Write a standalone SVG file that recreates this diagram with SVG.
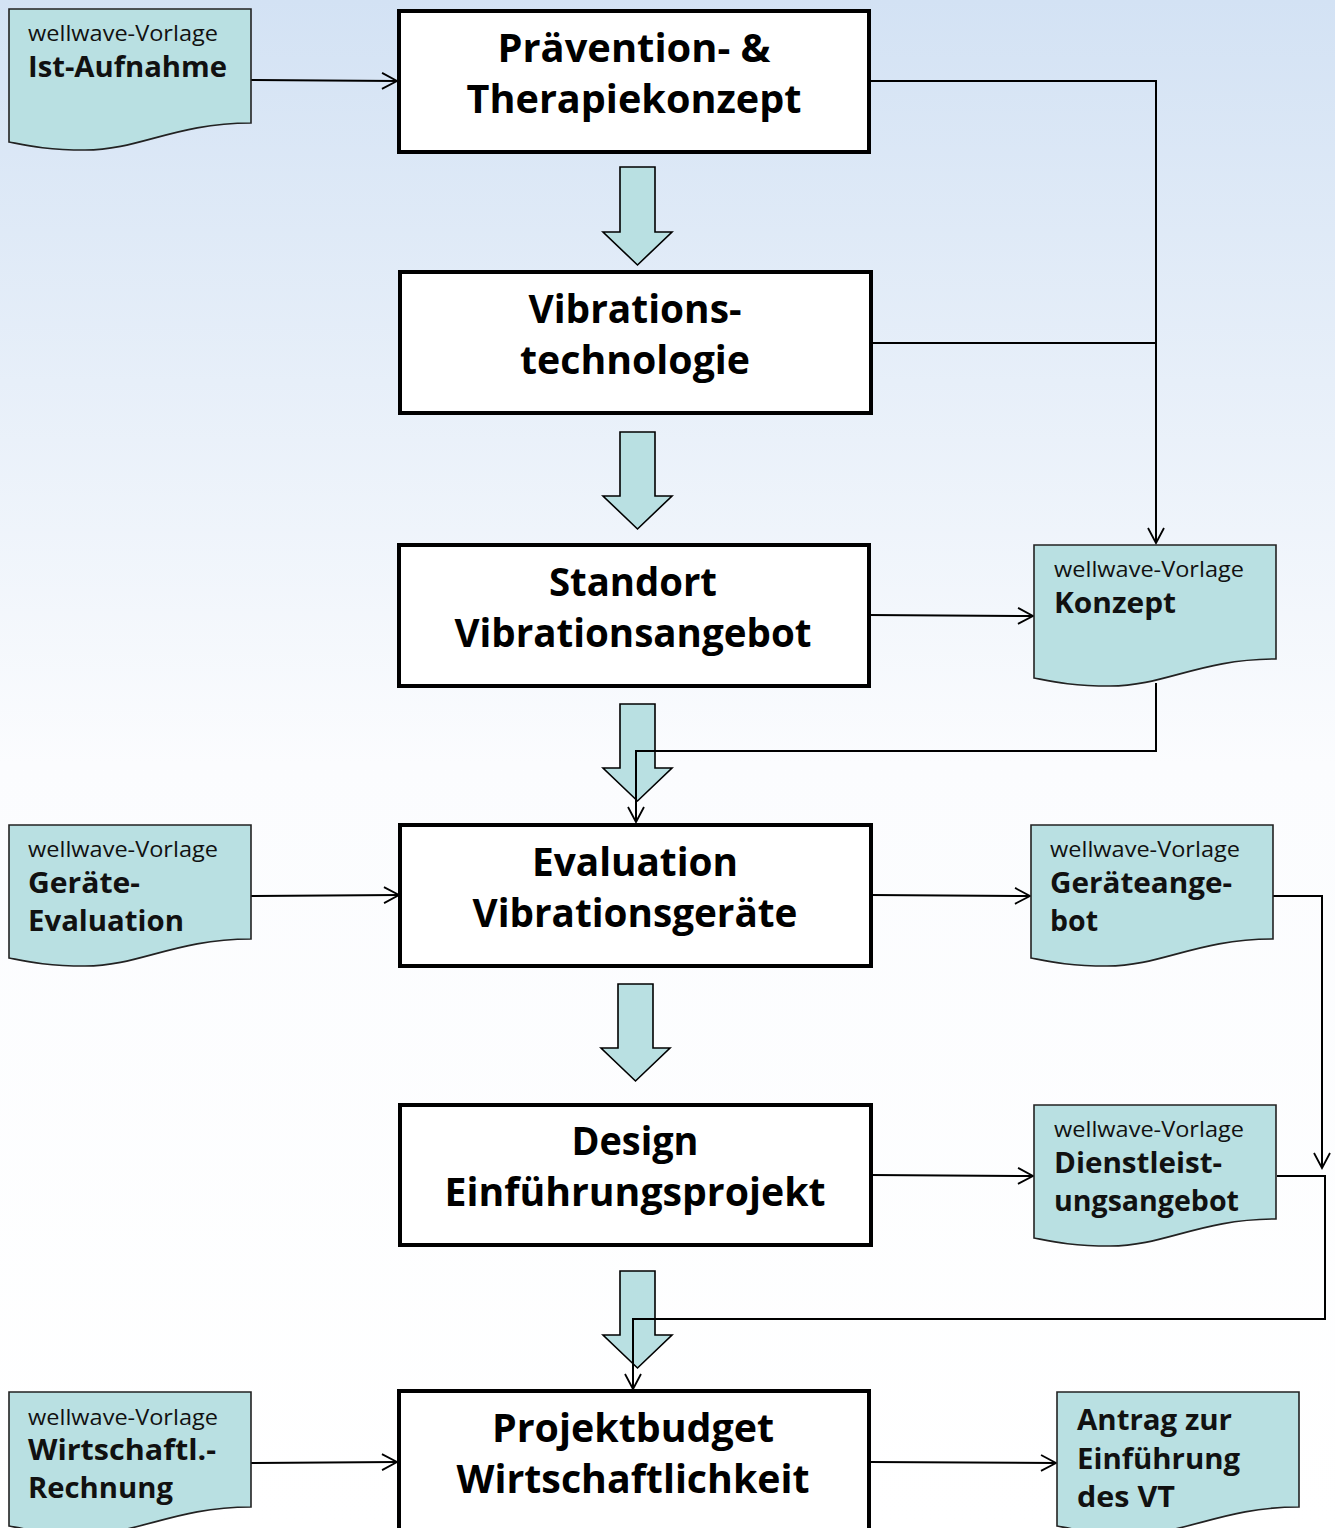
<svg xmlns="http://www.w3.org/2000/svg" width="1335" height="1528" viewBox="0 0 1335 1528">
<defs>
<linearGradient id="bg" x1="0" y1="0" x2="0" y2="1528" gradientUnits="userSpaceOnUse">
<stop offset="0" stop-color="#d3e2f4"/>
<stop offset="0.5" stop-color="#fbfcfe"/>
<stop offset="1" stop-color="#ffffff"/>
</linearGradient>
<marker id="arr" viewBox="0 0 18 18" refX="16" refY="9" markerWidth="18" markerHeight="18" markerUnits="userSpaceOnUse" orient="auto">
<path d="M1,1 L16,9 L1,17" fill="none" stroke="#000" stroke-width="1.8"/>
</marker>
<style>
.box{fill:#fff;stroke:#000;stroke-width:4}
.doc{fill:#b9e0e2;stroke:#222;stroke-width:1.6}
.blk{fill:#b9e0e2;stroke:#000;stroke-width:1.6}
.big{font-family:"Open Sans","DejaVu Sans",sans-serif;font-weight:bold;font-size:39px;fill:#000;text-anchor:middle}
.sm{font-family:"Open Sans","DejaVu Sans",sans-serif;font-size:21px;fill:#111}
.md{font-family:"Open Sans","DejaVu Sans",sans-serif;font-weight:bold;font-size:29px;fill:#111}
.con{fill:none;stroke:#000;stroke-width:2}
</style>
</defs>
<rect width="1335" height="1528" fill="url(#bg)"/>

<g id="connectors">
<path class="con" d="M251,80 L397,81" marker-end="url(#arr)"/>
<path class="con" d="M869,81 H1156 V543" marker-end="url(#arr)"/>
<path class="con" d="M871,343 H1156"/>
<path class="con" d="M869,615 L1033,616" marker-end="url(#arr)"/>
<path class="con" d="M251,896 L399,895" marker-end="url(#arr)"/>
<path class="con" d="M871,895 L1030,896" marker-end="url(#arr)"/>
<path class="con" d="M1273,896 H1322 V1168" marker-end="url(#arr)"/>
<path class="con" d="M871,1175 L1033,1176" marker-end="url(#arr)"/>
<path class="con" d="M251,1463 L397,1462" marker-end="url(#arr)"/>
<path class="con" d="M869,1462 L1056,1463" marker-end="url(#arr)"/>
</g>

<g id="blockarrows">
<path class="blk" d="M620,167 H655 V232 H672 L637.5,265 L603,232 H620 Z"/>
<path class="blk" d="M620,432 H655 V496 H672 L637.5,529 L603,496 H620 Z"/>
<path class="blk" d="M620,704 H655 V768 H672 L637.5,801 L603,768 H620 Z"/>
<path class="blk" d="M618,984 H653 V1048 H670 L635.5,1081 L601,1048 H618 Z"/>
<path class="blk" d="M620,1271 H655 V1335 H672 L637.5,1368 L603,1335 H620 Z"/>
</g>

<g id="connectors-over">
<path class="con" d="M1156,683 V751 H636 V822" marker-end="url(#arr)"/>
<path class="con" d="M1277,1176 H1325 V1319 H633 V1389" marker-end="url(#arr)"/>
</g>

<g id="n1"><rect class="box" x="399" y="11" width="470" height="141"/>
<text class="big" x="634" y="62" textLength="273" lengthAdjust="spacingAndGlyphs">Prävention- &amp;</text>
<text class="big" x="634" y="113" textLength="335" lengthAdjust="spacingAndGlyphs">Therapiekonzept</text></g>

<g id="n2"><rect class="box" x="400" y="272" width="471" height="141"/>
<text class="big" x="635" y="323" textLength="213" lengthAdjust="spacingAndGlyphs">Vibrations-</text>
<text class="big" x="635" y="374" textLength="230" lengthAdjust="spacingAndGlyphs">technologie</text></g>

<g id="n3"><rect class="box" x="399" y="545" width="470" height="141"/>
<text class="big" x="633" y="596" textLength="168" lengthAdjust="spacingAndGlyphs">Standort</text>
<text class="big" x="633" y="647" textLength="357" lengthAdjust="spacingAndGlyphs">Vibrationsangebot</text></g>

<g id="n4"><rect class="box" x="400" y="825" width="471" height="141"/>
<text class="big" x="635" y="876" textLength="206" lengthAdjust="spacingAndGlyphs">Evaluation</text>
<text class="big" x="635" y="927" textLength="325" lengthAdjust="spacingAndGlyphs">Vibrationsgeräte</text></g>

<g id="n5"><rect class="box" x="400" y="1105" width="471" height="140"/>
<text class="big" x="635" y="1155" textLength="127" lengthAdjust="spacingAndGlyphs">Design</text>
<text class="big" x="635" y="1206" textLength="381" lengthAdjust="spacingAndGlyphs">Einführungsprojekt</text></g>

<g id="n6"><rect class="box" x="399" y="1391" width="470" height="145"/>
<text class="big" x="633" y="1442" textLength="282" lengthAdjust="spacingAndGlyphs">Projektbudget</text>
<text class="big" x="633" y="1493" textLength="353" lengthAdjust="spacingAndGlyphs">Wirtschaftlichkeit</text></g>

<g id="d1"><path class="doc" d="M9,9 H251 V123 C175,123 140,150 85,150 C45,150 25,145 9,142 Z"/>
<text class="sm" x="28" y="41" textLength="190" lengthAdjust="spacingAndGlyphs">wellwave-Vorlage</text>
<text class="md" x="28" y="77" textLength="199" lengthAdjust="spacingAndGlyphs">Ist-Aufnahme</text></g>

<g id="d2"><path class="doc" d="M1034,545 H1276 V659 C1200,659 1165,686 1110,686 C1070,686 1050,681 1034,678 Z"/>
<text class="sm" x="1054" y="577" textLength="190" lengthAdjust="spacingAndGlyphs">wellwave-Vorlage</text>
<text class="md" x="1054" y="613" textLength="122" lengthAdjust="spacingAndGlyphs">Konzept</text></g>

<g id="d3"><path class="doc" d="M9,825 H251 V939 C175,939 140,966 85,966 C45,966 25,961 9,958 Z"/>
<text class="sm" x="28" y="857" textLength="190" lengthAdjust="spacingAndGlyphs">wellwave-Vorlage</text>
<text class="md" x="28" y="893" textLength="112" lengthAdjust="spacingAndGlyphs">Geräte-</text>
<text class="md" x="28" y="931" textLength="156" lengthAdjust="spacingAndGlyphs">Evaluation</text></g>

<g id="d4"><path class="doc" d="M1031,825 H1273 V939 C1197,939 1162,966 1107,966 C1067,966 1047,961 1031,958 Z"/>
<text class="sm" x="1050" y="857" textLength="190" lengthAdjust="spacingAndGlyphs">wellwave-Vorlage</text>
<text class="md" x="1050" y="893" textLength="182" lengthAdjust="spacingAndGlyphs">Geräteange-</text>
<text class="md" x="1050" y="931" textLength="48" lengthAdjust="spacingAndGlyphs">bot</text></g>

<g id="d5"><path class="doc" d="M1034,1105 H1276 V1219 C1200,1219 1165,1246 1110,1246 C1070,1246 1050,1241 1034,1238 Z"/>
<text class="sm" x="1054" y="1137" textLength="190" lengthAdjust="spacingAndGlyphs">wellwave-Vorlage</text>
<text class="md" x="1054" y="1173" textLength="168" lengthAdjust="spacingAndGlyphs">Dienstleist-</text>
<text class="md" x="1054" y="1211" textLength="185" lengthAdjust="spacingAndGlyphs">ungsangebot</text></g>

<g id="d6"><path class="doc" d="M9,1392 H251 V1507 C175,1507 140,1534 85,1534 C45,1534 25,1529 9,1526 Z"/>
<text class="sm" x="28" y="1425" textLength="190" lengthAdjust="spacingAndGlyphs">wellwave-Vorlage</text>
<text class="md" x="28" y="1460" textLength="188" lengthAdjust="spacingAndGlyphs">Wirtschaftl.-</text>
<text class="md" x="28" y="1498" textLength="145" lengthAdjust="spacingAndGlyphs">Rechnung</text></g>

<g id="d7"><path class="doc" d="M1057,1392 H1299 V1507 C1223,1507 1188,1534 1133,1534 C1093,1534 1073,1529 1057,1526 Z"/>
<text class="md" x="1077" y="1430" textLength="155" lengthAdjust="spacingAndGlyphs">Antrag zur</text>
<text class="md" x="1077" y="1469" textLength="163" lengthAdjust="spacingAndGlyphs">Einführung</text>
<text class="md" x="1077" y="1507" textLength="98" lengthAdjust="spacingAndGlyphs">des VT</text></g>
</svg>
